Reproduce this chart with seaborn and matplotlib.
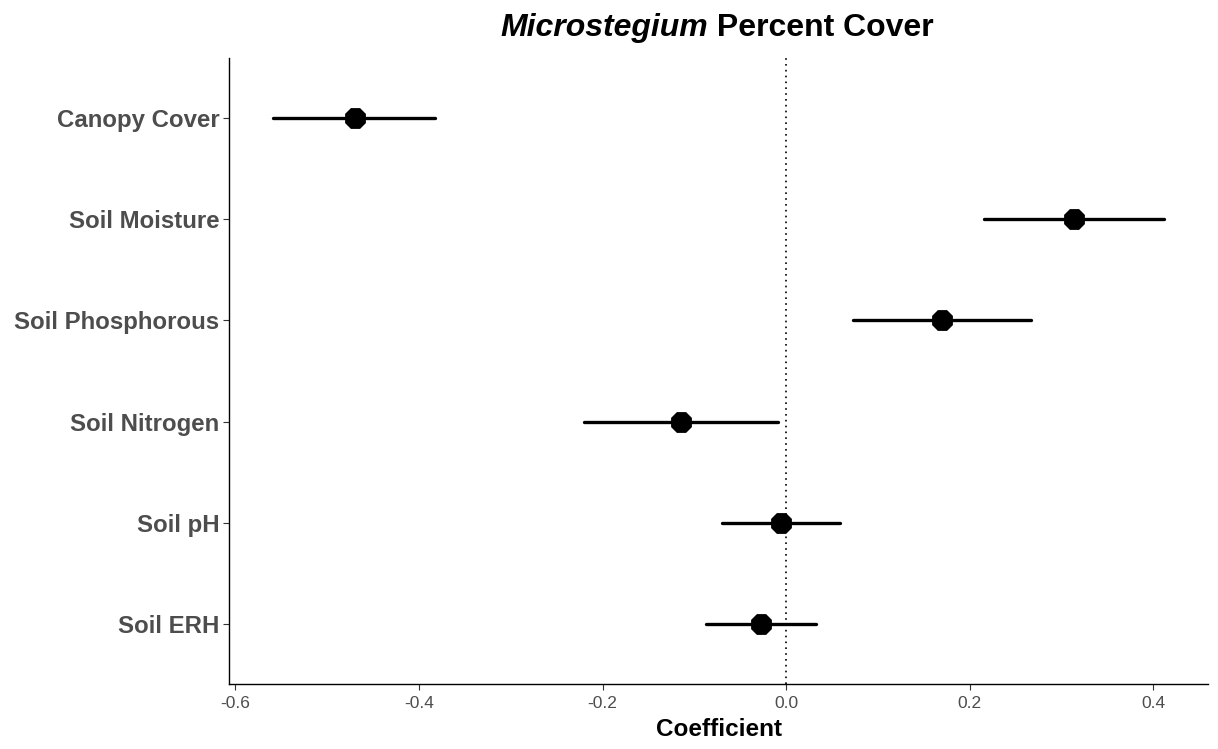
import matplotlib
matplotlib.use("Agg")
import matplotlib.pyplot as plt
import seaborn as sns
import pandas as pd
import numpy as np

categories = ["Canopy Cover", "Soil Moisture", "Soil Phosphorous", "Soil Nitrogen", "Soil pH", "Soil ERH"]
estimate = [-0.470, 0.314, 0.170, -0.115, -0.005, -0.027]
ci_low = [-0.559, 0.216, 0.073, -0.220, -0.070, -0.087]
ci_high = [-0.383, 0.412, 0.267, -0.009, 0.059, 0.033]
x_ticks = [-0.6, -0.4, -0.2, 0.0, 0.2, 0.4]

rows = []
for c, e, lo, hi in zip(categories, estimate, ci_low, ci_high):
    for v in (lo, e, hi):
        rows.append({"term": c, "value": v})
df = pd.DataFrame(rows)

sns.set_theme(style="white")
plt.rcParams["font.family"] = ["Liberation Sans", "DejaVu Sans"]

fig = plt.figure(figsize=(12.18, 7.49), dpi=100)
ax = fig.add_axes([0.188, 0.0868, 0.804, 0.8358])

ax.axvline(0, color="black", linestyle=(0, (1, 2.5)), linewidth=1.2, zorder=1)

sns.pointplot(data=df, x="value", y="term", order=categories,
              estimator="median", errorbar=lambda v: (np.min(v), np.max(v)),
              linestyle="none", marker="8", markersize=14.5, color="black",
              err_kws={"linewidth": 2.4}, ax=ax, zorder=3)

ax.set_xlim(-0.607, 0.460)
ax.set_ylim(len(categories) - 1 + 0.59, -0.59)
ax.set_xticks(x_ticks)
ax.set_xticklabels([f"{t:.1f}" for t in x_ticks], fontsize=12.5, color="#4D4D4D")
ax.set_yticks(range(len(categories)))
ax.set_yticklabels(categories, fontsize=17.3, fontweight="bold", color="#4D4D4D")
ax.tick_params(axis="both", which="both", length=4, width=0.8, color="#333333",
               left=True, bottom=True)
ax.tick_params(axis="x", pad=5)
ax.tick_params(axis="y", pad=3)

for s in ["top", "right"]:
    ax.spines[s].set_visible(False)
for s in ["left", "bottom"]:
    ax.spines[s].set_color("black")
    ax.spines[s].set_linewidth(1.0)

ax.set_xlabel("Coefficient", fontsize=17.5, fontweight="bold", color="black", labelpad=5)
ax.set_ylabel("")

fig.canvas.draw()
r = fig.canvas.get_renderer()
t1 = fig.text(0, 0.963, "Microstegium", fontsize=23, fontweight="bold", style="italic",
              ha="left", va="center", color="black")
t2 = fig.text(0, 0.963, " Percent Cover", fontsize=23, fontweight="bold",
              ha="left", va="center", color="black")
w1 = t1.get_window_extent(r).width
w2 = t2.get_window_extent(r).width
W = fig.bbox.width
cx = 717.0
start = cx - (w1 + w2) / 2
t1.set_x(start / W)
t2.set_x((start + w1) / W)

fig.savefig("out.png", dpi=100)
